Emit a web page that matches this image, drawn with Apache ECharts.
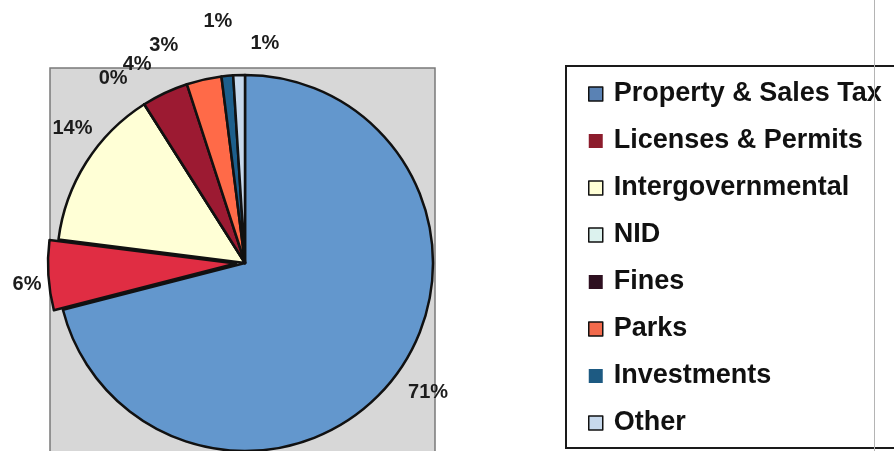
<!DOCTYPE html>
<html>
<head>
<meta charset="utf-8">
<script src="https://cdn.jsdelivr.net/npm/echarts@6/dist/echarts.min.js"></script>
<style>
  html, body { margin: 0; padding: 0; background: #ffffff; }
  #chart { width: 894px; height: 451px; }
</style>
</head>
<body>
<div id="chart"></div>
<script>
// Revenue sources, share of total (%)
const categories = ['Property & Sales Tax', 'Licenses & Permits', 'Intergovernmental', 'NID', 'Fines', 'Parks', 'Investments', 'Other'];
const values = [71, 6, 14, 0, 4, 3, 1, 1];
// slice fills and the (darker) legend key fills
const sliceColors = ['#6397cd', '#e02d43', '#ffffd6', '#dcf2ee', '#9c1a32', '#ff6a48', '#1d5f8c', '#c6d8ec'];
const keyColors = ['#5a82b4', '#8c1c2c', '#ffffd6', '#dcf2ee', '#2e1020', '#f26a4c', '#1d5a82', '#c6d8ec'];
const explodedIndex = 1;   // Licenses & Permits is pulled out of the pie
const explodeDistance = 9;

// percentage labels sit outside the rim: radius from the centre and a small
// angular nudge (degrees) away from the slice middle to keep them apart
const labelRadius = [224, 219, 219, 227, 226, 232, 243, 220];
const labelNudge = [-2.6, -1.9, 5.6, -3.1, -3.3, -7.9, -1.0, 7.0];

const CX = 245, CY = 263, R = 188;

const total = values.reduce((a, b) => a + b, 0);
const midAngles = [];
values.reduce((acc, v) => { midAngles.push((acc + v / 2) / total * 360); return acc + v; }, 0);

const explodeRad = midAngles[explodedIndex] * Math.PI / 180;
const explodedCenter = [CX + explodeDistance * Math.sin(explodeRad), CY - explodeDistance * Math.cos(explodeRad)];

const chart = echarts.init(document.getElementById('chart'), null, { renderer: 'canvas' });

const hidden = { color: 'transparent', borderWidth: 0 };

// main pie: every slice except the pulled-out one
const mainData = categories.map((name, i) => ({
  name,
  value: values[i],
  itemStyle: i === explodedIndex ? hidden : { color: sliceColors[i] },
  label: { show: i !== explodedIndex }
}));
// same angles, drawn from a shifted centre: only the pulled-out slice shows
const explodedData = categories.map((name, i) => ({
  name,
  value: values[i],
  itemStyle: i === explodedIndex ? { color: sliceColors[i] } : hidden,
  label: { show: i === explodedIndex }
}));

const legendData = categories.map((name, i) => ({
  name,
  itemStyle: { color: keyColors[i], borderColor: '#111', borderWidth: (i === 1 || i === 4 || i === 6) ? 0 : 1.5 }
}));

const labelStyle = {
  show: true,
  position: 'outside',
  formatter: p => Math.round(p.value / total * 100) + '%',
  fontFamily: 'Liberation Sans, Arial, sans-serif',
  fontWeight: 'bold',
  fontSize: 20,
  color: '#1c1c1c'
};

const placeLabel = p => {
  const i = p.dataIndex;
  const a = (midAngles[i] + labelNudge[i]) * Math.PI / 180;
  return {
    x: CX + labelRadius[i] * Math.sin(a),
    y: CY - labelRadius[i] * Math.cos(a),
    align: 'center',
    verticalAlign: 'middle',
    hideOverlap: false
  };
};

const pieBase = {
  type: 'pie',
  radius: R,
  startAngle: 90,
  clockwise: true,
  avoidLabelOverlap: false,
  itemStyle: { borderColor: '#111111', borderWidth: 2.5 },
  label: labelStyle,
  labelLine: { show: false },
  labelLayout: placeLabel,
  emphasis: { disabled: true },
  selectedMode: false
};

chart.setOption({
  animation: false,
  backgroundColor: '#ffffff',
  graphic: [
    {
      type: 'rect', z: 0, silent: true,
      shape: { x: 50, y: 68, width: 385, height: 400 },
      style: { fill: '#d7d7d7', stroke: '#7a7a7a', lineWidth: 1.5 }
    },
    {
      type: 'rect', z: 0, silent: true,
      shape: { x: 566, y: 66, width: 340, height: 382 },
      style: { fill: '#ffffff', stroke: '#1a1a1a', lineWidth: 2 }
    },
    {
      type: 'line', z: 100, silent: true,
      shape: { x1: 874.5, y1: 0, x2: 874.5, y2: 451 },
      style: { stroke: '#b4b4b4', lineWidth: 1 }
    }
  ],
  legend: {
    orient: 'vertical',
    left: 588,
    top: 79,
    padding: 0,
    itemWidth: 14,
    itemHeight: 14,
    itemGap: 17,
    icon: 'rect',
    data: legendData,
    selectedMode: false,
    textStyle: {
      fontFamily: 'Liberation Sans, Arial, sans-serif',
      fontWeight: 'bold',
      fontSize: 27,
      color: '#111111',
      lineHeight: 30,
      padding: [0, 0, 0, 6]
    }
  },
  series: [
    Object.assign({}, pieBase, { name: 'Revenue', center: [CX, CY], data: mainData }),
    Object.assign({}, pieBase, { name: 'Revenue (pulled out)', center: explodedCenter, data: explodedData })
  ]
});
</script>
</body>
</html>
